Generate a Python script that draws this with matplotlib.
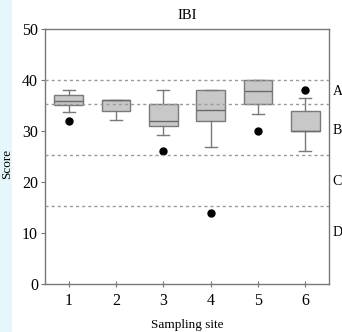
import matplotlib
matplotlib.use("Agg")
import matplotlib.pyplot as plt
from matplotlib.patches import Rectangle

plt.rcParams['font.family'] = ['Liberation Serif', 'DejaVu Serif']

sites = [1, 2, 3, 4, 5, 6]
whislo = [33.7, 32.1, 29.3, 26.9, 33.3, 26.1]
q1 = [35.1, 33.9, 31.0, 32.0, 35.2, 30.0]
med = [35.9, 36.0, 32.0, 34.1, 37.9, 30.0]
q3 = [37.1, 36.1, 35.2, 38.0, 40.0, 34.0]
whishi = [38.0, 36.1, 38.0, 38.0, 40.0, 36.5]
outliers = [[32.0], [], [26.1], [14.0], [30.0], [38.0]]
class_lines = [40.0, 35.3, 25.3, 15.3]
class_labels = ['A', 'B', 'C', 'D']
class_label_y = [37.7, 30.0, 20.0, 10.0]

fig = plt.figure(figsize=(3.42, 3.32), dpi=100)
fig.patches.append(Rectangle((0, 0), 0.035, 1, transform=fig.transFigure,
                             facecolor='#e6f7fb', edgecolor='none', zorder=-1))
ax = fig.add_axes([0.1316, 0.1446, 0.962 - 0.1316, 0.9127 - 0.1446])

for y in class_lines:
    ax.axhline(y, color='#9a9a9a', linestyle=(0, (2.2, 2.2)), linewidth=1.0, zorder=3)

stats = []
for i in range(len(sites)):
    stats.append(dict(whislo=whislo[i], q1=q1[i], med=med[i], q3=q3[i],
                      whishi=whishi[i], fliers=outliers[i], label=str(sites[i])))

ax.bxp(stats, positions=sites, widths=0.6, patch_artist=True,
       boxprops=dict(facecolor='#c8c8c8', edgecolor='#7a7a7a', linewidth=1.0),
       medianprops=dict(color='#6a6a6a', linewidth=1.0),
       whiskerprops=dict(color='#7a7a7a', linewidth=1.0),
       capprops=dict(color='#7a7a7a', linewidth=1.0), capwidths=0.25,
       flierprops=dict(marker='o', markerfacecolor='black', markeredgecolor='black',
                       markersize=5), zorder=2)

ax.set_xlim(0.5, 6.5)
ax.set_ylim(0, 50)
ax.set_yticks([0, 10, 20, 30, 40, 50])
ax.set_xticks(sites)
ax.set_xticklabels([str(s) for s in sites])
for s in ax.spines.values():
    s.set_color('#777777')
    s.set_linewidth(1.0)
ax.tick_params(axis='y', direction='out', length=3, color='#777777', labelsize=11.5, pad=2)
ax.tick_params(axis='x', direction='inout', length=5, color='#777777', labelsize=11.5, pad=4)

ax.set_title('IBI', fontsize=10.5, pad=7)
ax.set_xlabel('Sampling site', fontsize=9.5, labelpad=7)
ax.set_ylabel('Score', fontsize=9.5)
ax.yaxis.set_label_coords(-0.112, 0.47)

for lab, y in zip(class_labels, class_label_y):
    ax.text(1.012, y, lab, transform=ax.get_yaxis_transform(), fontsize=10,
            va='center', ha='left', clip_on=False)

fig.savefig('out.png', dpi=100)
